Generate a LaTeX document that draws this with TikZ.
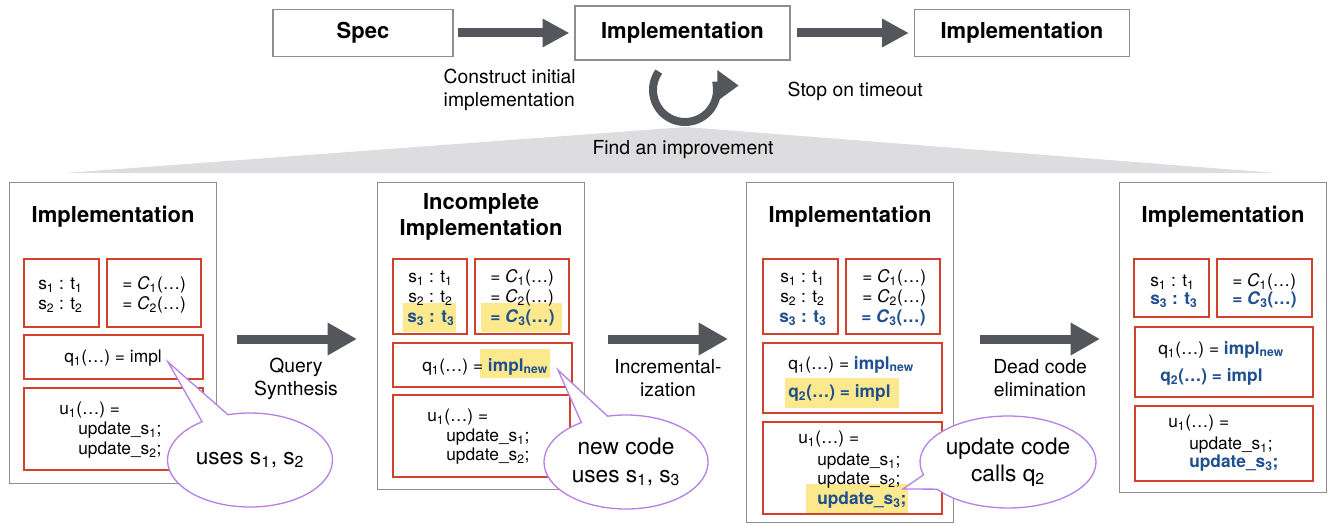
\documentclass[tikz,border=0pt]{standalone}
\usepackage{fontspec}
\setmainfont{TeX Gyre Heros}
\usetikzlibrary{arrows.meta,shapes.callouts,positioning,calc}

\newdimen\upx \upx=0.75pt
\newcommand{\sbs}[1]{\textsubscript{#1}}

\definecolor{boxgray}{HTML}{8E8E8E}
\definecolor{codered}{HTML}{D2412C}
\definecolor{arrgray}{HTML}{53565B}
\definecolor{fadegray}{HTML}{DDDDDF}
\definecolor{codeblue}{HTML}{1F4F8F}
\definecolor{hiyellow}{HTML}{FCE98E}
\definecolor{callpurple}{HTML}{B77FE6}

\tikzset{
  topbox/.style={draw=boxgray, fill=white, line width=1.2\upx, inner sep=0pt,
    font=\fontsize{16.5}{20}\selectfont\bfseries},
  panel/.style={draw=boxgray, fill=white, line width=1.2\upx, anchor=north west, inner sep=0pt},
  codebox/.style={draw=codered, line width=1.5\upx, anchor=north west, inner sep=0pt},
  hilite/.style={fill=hiyellow, anchor=north west, inner sep=0pt},
  code/.style={font=\fontsize{13}{15.5}\selectfont, anchor=west, inner sep=0pt},
  newcode/.style={code, font=\fontsize{13}{15.5}\selectfont\bfseries, text=codeblue},
  title/.style={font=\fontsize{16.5}{19.5}\selectfont\bfseries, align=center},
  steplabel/.style={font=\fontsize{14.5}{17.5}\selectfont, align=center},
  bigarrow/.style={draw=arrgray, line width=9\upx, -{Triangle[length=22pt,width=23pt]}},
  toparrow/.style={bigarrow, -{Triangle[length=20pt,width=20pt]}},
  bubble/.style={ellipse callout, draw=callpurple, fill=white, line width=1.3\upx,
    callout pointer arc=20, font=\fontsize{17}{20.5}\selectfont, align=center, inner sep=0pt},
}

\begin{document}
\begin{tikzpicture}[x=0.75pt, y=-0.75pt]
\useasboundingbox (0,0) rectangle (1333,527);

% top row
\node[topbox, minimum width=180\upx, minimum height=47\upx] (spec) at (363,33) {Spec};
\node[topbox, minimum width=215\upx, minimum height=54\upx] (impl) at (682.5,33) {Implementation};
\node[topbox, minimum width=215\upx, minimum height=47\upx] (final) at (1022,33) {Implementation};
\draw[toparrow, shorten <=4\upx, shorten >=5\upx] (spec) -- (impl);
\draw[toparrow, shorten <=6\upx, shorten >=5\upx] (impl) -- (final);

\node[steplabel, align=left, anchor=west] (initlbl) at (439,90) {Construct initial\\implementation};
\node[steplabel, anchor=west] (stoplbl) at (783,91) {Stop on timeout};

\coordinate (apex) at (686,127);
\coordinate (baseL) at (65,173);
\coordinate (baseR) at (1276,173);
\fill[fadegray] (apex) -- (baseR) -- (baseL) -- cycle;
\node[steplabel] (findlbl) at (683,150) {Find an improvement};

\coordinate (loopc) at (685,90);
\draw[draw=arrgray, line width=8\upx, -{Triangle[length=16pt,width=22pt]}] (loopc) ++(215:32) arc (215:-8:32) -- ++(22,0);

% panels
\node[panel, minimum width=207\upx, minimum height=301\upx] (implA) at (9,182) {};
\node[panel, minimum width=207\upx, minimum height=307\upx] (incB) at (377,182) {};
\node[panel, minimum width=207\upx, minimum height=340\upx] (implC) at (746,182) {};
\node[panel, minimum width=207\upx, minimum height=310\upx] (implD) at (1119,182) {};

\node[title] (titA) at ($(implA.north)+(0,35)$) {Implementation};
\node[title] (titB) at ($(incB.north)+(0,35)$) {Incomplete\\Implementation};
\node[title] (titC) at ($(implC.north)+(0,35)$) {Implementation};
\node[title] (titD) at ($(implD.north)+(0,35)$) {Implementation};

% highlights
\node[hilite, minimum width=53\upx, minimum height=29\upx] (hsB) at (403,303) {};
\node[hilite, minimum width=81\upx, minimum height=29\upx] (hcB) at (481,303) {};
\node[hilite, minimum width=70\upx, minimum height=29\upx] (hqB) at (480,349) {};
\node[hilite, minimum width=114\upx, minimum height=30\upx] (hqC) at (785,378) {};
\node[hilite, minimum width=102\upx, minimum height=29\upx] (huC) at (806,484) {};

% first implementation
\node[codebox, minimum width=75\upx, minimum height=68\upx] (sA) at (23,258) {};
\node[codebox, minimum width=94\upx, minimum height=68\upx] (cA) at (106,258) {};
\node[codebox, minimum width=179\upx, minimum height=44\upx] (qA) at (23,334) {};
\node[codebox, minimum width=179\upx, minimum height=82\upx] (uA) at (23,387) {};
\node[code] (sA1) at (38,285) {s\sbs{1} : t\sbs{1}};
\node[code] (sA2) at (38,305) {s\sbs{2} : t\sbs{2}};
\node[code] (cA1) at (122,285) {= \textit{C}\sbs{1}(…)};
\node[code] (cA2) at (122,305) {= \textit{C}\sbs{2}(…)};
\node[code] (qA1) at (64,358) {q\sbs{1}(…) = impl};
\node[code] (uA1) at (59,410) {u\sbs{1}(…) =};
\node[code] (uA2) at (78,430) {update\_s\sbs{1};};
\node[code] (uA3) at (78,450) {update\_s\sbs{2};};

% incomplete implementation
\node[codebox, minimum width=74\upx, minimum height=75\upx] (sB) at (392,258) {};
\node[codebox, minimum width=94\upx, minimum height=75\upx] (cB) at (474,258) {};
\node[codebox, minimum width=179\upx, minimum height=44\upx] (qB) at (392,342) {};
\node[codebox, minimum width=177\upx, minimum height=82\upx] (uB) at (392,394) {};
\node[code] (sB1) at (408,278) {s\sbs{1} : t\sbs{1}};
\node[code] (sB2) at (408,298) {s\sbs{2} : t\sbs{2}};
\node[newcode] (sB3) at (407,318) {s\sbs{3} : t\sbs{3}};
\node[code] (cB1) at (490,278) {= \textit{C}\sbs{1}(…)};
\node[code] (cB2) at (490,298) {= \textit{C}\sbs{2}(…)};
\node[newcode] (cB3) at (490,318) {= \textit{C}\sbs{3}(…)};
\node[code] (qB1) at (422,367) {q\sbs{1}(…) = \textcolor{codeblue}{\bfseries impl\sbs{new}}};
\node[code] (uB1) at (427,417) {u\sbs{1}(…) =};
\node[code] (uB2) at (446,437) {update\_s\sbs{1};};
\node[code] (uB3) at (446,456) {update\_s\sbs{2};};

% incrementalized implementation
\node[codebox, minimum width=75\upx, minimum height=75\upx] (sC) at (762,258) {};
\node[codebox, minimum width=94\upx, minimum height=75\upx] (cC) at (845,258) {};
\node[codebox, minimum width=179\upx, minimum height=70\upx] (qC) at (762,342) {};
\node[codebox, minimum width=179\upx, minimum height=92\upx] (uC) at (762,421) {};
\node[code] (sC1) at (780,278) {s\sbs{1} : t\sbs{1}};
\node[code] (sC2) at (780,298) {s\sbs{2} : t\sbs{2}};
\node[newcode] (sC3) at (779,318) {s\sbs{3} : t\sbs{3}};
\node[code] (cC1) at (862,278) {= \textit{C}\sbs{1}(…)};
\node[code] (cC2) at (862,298) {= \textit{C}\sbs{2}(…)};
\node[newcode] (cC3) at (861,318) {= \textit{C}\sbs{3}(…)};
\node[code] (qC1) at (788,365) {q\sbs{1}(…) = \textcolor{codeblue}{\bfseries impl\sbs{new}}};
\node[newcode] (qC2) at (788,393) {q\sbs{2}(…) = impl};
\node[code] (uC1) at (798,439) {u\sbs{1}(…) =};
\node[code] (uC2) at (817,461) {update\_s\sbs{1};};
\node[code] (uC3) at (817,480) {update\_s\sbs{2};};
\node[newcode] (uC4) at (817,500) {update\_s\sbs{3};};

% final implementation
\node[codebox, minimum width=75\upx, minimum height=58\upx] (sD) at (1133,258) {};
\node[codebox, minimum width=95\upx, minimum height=58\upx] (cD) at (1216,258) {};
\node[codebox, minimum width=178\upx, minimum height=70\upx] (qD) at (1134,326) {};
\node[codebox, minimum width=178\upx, minimum height=75\upx] (uD) at (1134,405) {};
\node[code] (sD1) at (1150,282) {s\sbs{1} : t\sbs{1}};
\node[newcode] (sD3) at (1150,300) {s\sbs{3} : t\sbs{3}};
\node[code] (cD1) at (1232,282) {= \textit{C}\sbs{1}(…)};
\node[newcode] (cD3) at (1232,300) {= \textit{C}\sbs{3}(…)};
\node[code] (qD1) at (1158,350) {q\sbs{1}(…) = \textcolor{codeblue}{\bfseries impl\sbs{new}}};
\node[newcode] (qD2) at (1160,377) {q\sbs{2}(…) = impl};
\node[code] (uD1) at (1168,423) {u\sbs{1}(…) =};
\node[code] (uD2) at (1189,445) {update\_s\sbs{1};};
\node[newcode] (uD3) at (1189,463) {update\_s\sbs{3};};

% steps between panels
\coordinate (midrow) at (0,339);
\draw[bigarrow, shorten <=20\upx, shorten >=20\upx] (implA.east |- midrow) -- (incB.west |- midrow);
\draw[bigarrow, shorten <=23\upx, shorten >=18\upx] (incB.east |- midrow) -- (implC.west |- midrow);
\draw[bigarrow, shorten <=26\upx, shorten >=19\upx] (implC.east |- midrow) -- (implD.west |- midrow);
\node[steplabel] (qslbl) at (296,379) {Query\\Synthesis};
\node[steplabel] (inclbl) at (668,378) {Incremental-\\ization};
\node[steplabel] (dcelbl) at (1040,378) {Dead code\\elimination};

% callouts
\coordinate (tipA) at (168,362);
\coordinate (tipB) at (558,370);
\coordinate (tipC) at (903,489);
\node[bubble, minimum width=165\upx, minimum height=94\upx, callout absolute pointer={(tipA)}] (bubA) at (250,460) {uses s\sbs{1}, s\sbs{2}};
\node[bubble, minimum width=164\upx, minimum height=94\upx, callout absolute pointer={(tipB)}] (bubB) at (626,462) {new code\\uses s\sbs{1}, s\sbs{3}};
\node[bubble, minimum width=176\upx, minimum height=92\upx, callout absolute pointer={(tipC)}] (bubC) at (1008,462) {update code\\calls q\sbs{2}};
\end{tikzpicture}
\end{document}
